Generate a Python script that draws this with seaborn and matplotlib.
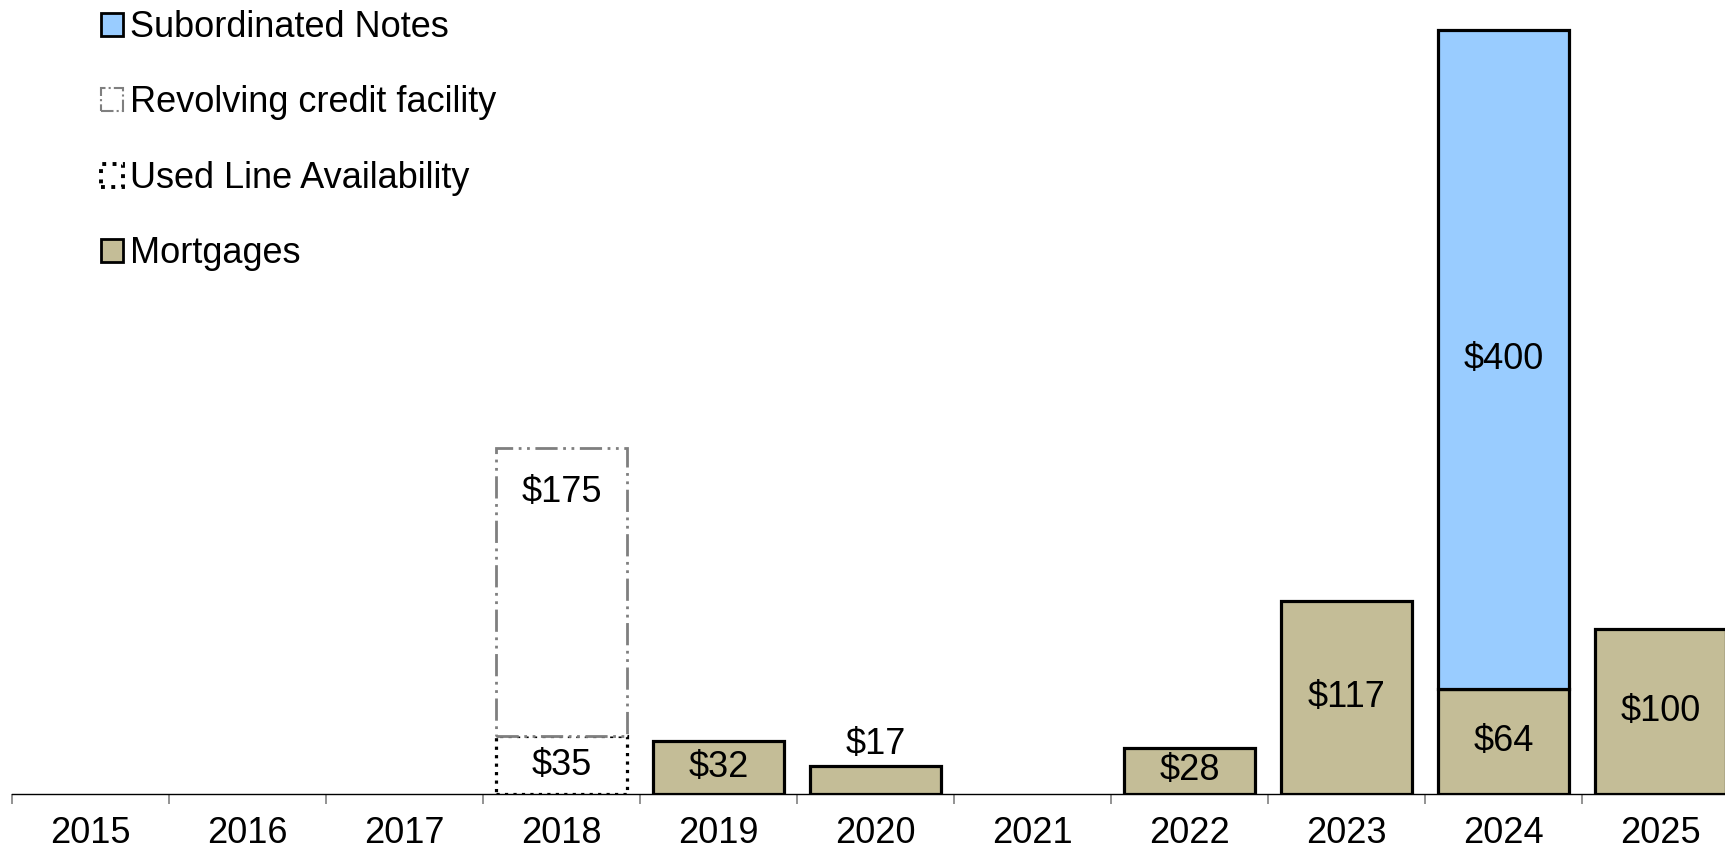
import matplotlib
matplotlib.use("Agg")
import matplotlib.pyplot as plt
import matplotlib.patches as mpatches
import numpy as np
import pandas as pd
import seaborn as sns

years = [str(y) for y in range(2015, 2026)]

mortgage_years = ["2019", "2020", "2022", "2023", "2024", "2025"]
mortgage_values = [32, 17, 28, 117, 64, 100]

used_line_years = ["2018"]
used_line_values = [35]

revolver_years = ["2018"]
revolver_values = [175]

sub_notes_years = ["2024"]
sub_notes_values = [400]

MORTGAGE_COLOR = "#C4BD97"
SUB_NOTES_COLOR = "#99CCFF"
FONT_SIZE = 26
BAR_WIDTH = 0.83

sns.set_style("white")
plt.rcParams["font.family"] = ["Liberation Sans", "DejaVu Sans"]
plt.rcParams["text.color"] = "black"
plt.rcParams["xtick.color"] = "black"

fig = plt.figure(figsize=(17.25, 8.52), dpi=100)
ax = fig.add_axes([12 / 1725, 58 / 852, 11 * 157 / 1725, 794 / 852])


def draw_layer(yrs, vals, bottoms, **style):
    df = pd.DataFrame({"year": yrs, "value": vals})
    sns.barplot(
        data=df, x="year", y="value", order=years, bottom=np.asarray(bottoms, dtype=float),
        width=BAR_WIDTH, errorbar=None, saturation=1, ax=ax, **style,
    )


mort = dict(zip(mortgage_years, mortgage_values))
used = dict(zip(used_line_years, used_line_values))

draw_layer(mortgage_years, mortgage_values, [0] * len(mortgage_years),
           color=MORTGAGE_COLOR, facecolor=MORTGAGE_COLOR, edgecolor="black", linewidth=2.3)

used_bottom = [mort.get(y, 0) for y in used_line_years]
draw_layer(used_line_years, used_line_values, used_bottom,
           color="white", facecolor="white", edgecolor="black", linewidth=2.3, linestyle=":")

rev_bottom = [mort.get(y, 0) + used.get(y, 0) for y in revolver_years]
draw_layer(revolver_years, revolver_values, rev_bottom,
           color="white", facecolor="white", edgecolor="#7f7f7f", linewidth=2.0,
           linestyle=(0, (8, 2, 1, 2, 1, 2)))

sub_bottom = [mort.get(y, 0) for y in sub_notes_years]
draw_layer(sub_notes_years, sub_notes_values, sub_bottom,
           color=SUB_NOTES_COLOR, facecolor=SUB_NOTES_COLOR, edgecolor="black", linewidth=2.3)

# value labels
for yrs, vals, bots in [
    (mortgage_years, mortgage_values, [0] * len(mortgage_years)),
    (used_line_years, used_line_values, used_bottom),
    (sub_notes_years, sub_notes_values, sub_bottom),
]:
    for y, v, b in zip(yrs, vals, bots):
        xpos = years.index(y)
        if v < 25:
            ax.annotate(f"${v}", (xpos, b + v), xytext=(0, 3), textcoords="offset points",
                        ha="center", va="bottom", fontsize=FONT_SIZE)
        else:
            ax.text(xpos, b + v / 2, f"${v}", ha="center", va="center", fontsize=FONT_SIZE)

for y, v, b in zip(revolver_years, revolver_values, rev_bottom):
    ax.annotate(f"${v}", (years.index(y), b + v), xytext=(0, -32), textcoords="offset points",
                ha="center", va="center", fontsize=FONT_SIZE)

ax.set_xlim(-0.5, len(years) - 0.5)
ax.set_ylim(0, 482)
ax.set_xlabel("")
ax.set_ylabel("")
ax.set_yticks([])
ax.set_xticks(np.arange(-0.5, len(years), 1), minor=True)
ax.tick_params(axis="x", which="major", bottom=False, length=0, pad=16, labelsize=FONT_SIZE,
               labelcolor="black")
ax.tick_params(axis="x", which="minor", bottom=True, length=7, width=1.2, color="#808080",
               direction="out")
for side in ["left", "right", "top"]:
    ax.spines[side].set_visible(False)
ax.spines["bottom"].set_color("black")
ax.spines["bottom"].set_linewidth(1.0)
ax.patch.set_alpha(0)

handles = [
    mpatches.Patch(facecolor=SUB_NOTES_COLOR, edgecolor="black", linewidth=2.0, label="Subordinated Notes"),
    mpatches.Patch(facecolor="white", edgecolor="#7f7f7f", linewidth=1.5,
                   linestyle=(0, (6, 1.5, 1, 1.5)), label="Revolving credit facility"),
    mpatches.Patch(facecolor="white", edgecolor="black", linewidth=2.8, linestyle=":",
                   label="Used Line Availability"),
    mpatches.Patch(facecolor=MORTGAGE_COLOR, edgecolor="black", linewidth=2.0, label="Mortgages"),
]
fig.legend(
    handles=handles, loc="upper left", bbox_to_anchor=(101 / 1725, 1 - 10 / 852),
    bbox_transform=fig.transFigure, frameon=False, fontsize=FONT_SIZE,
    handlelength=0.6, handleheight=0.6, handletextpad=0.2, labelspacing=1.12,
    borderpad=0, borderaxespad=0,
)

fig.savefig("out.png", dpi=100)
plt.close(fig)
